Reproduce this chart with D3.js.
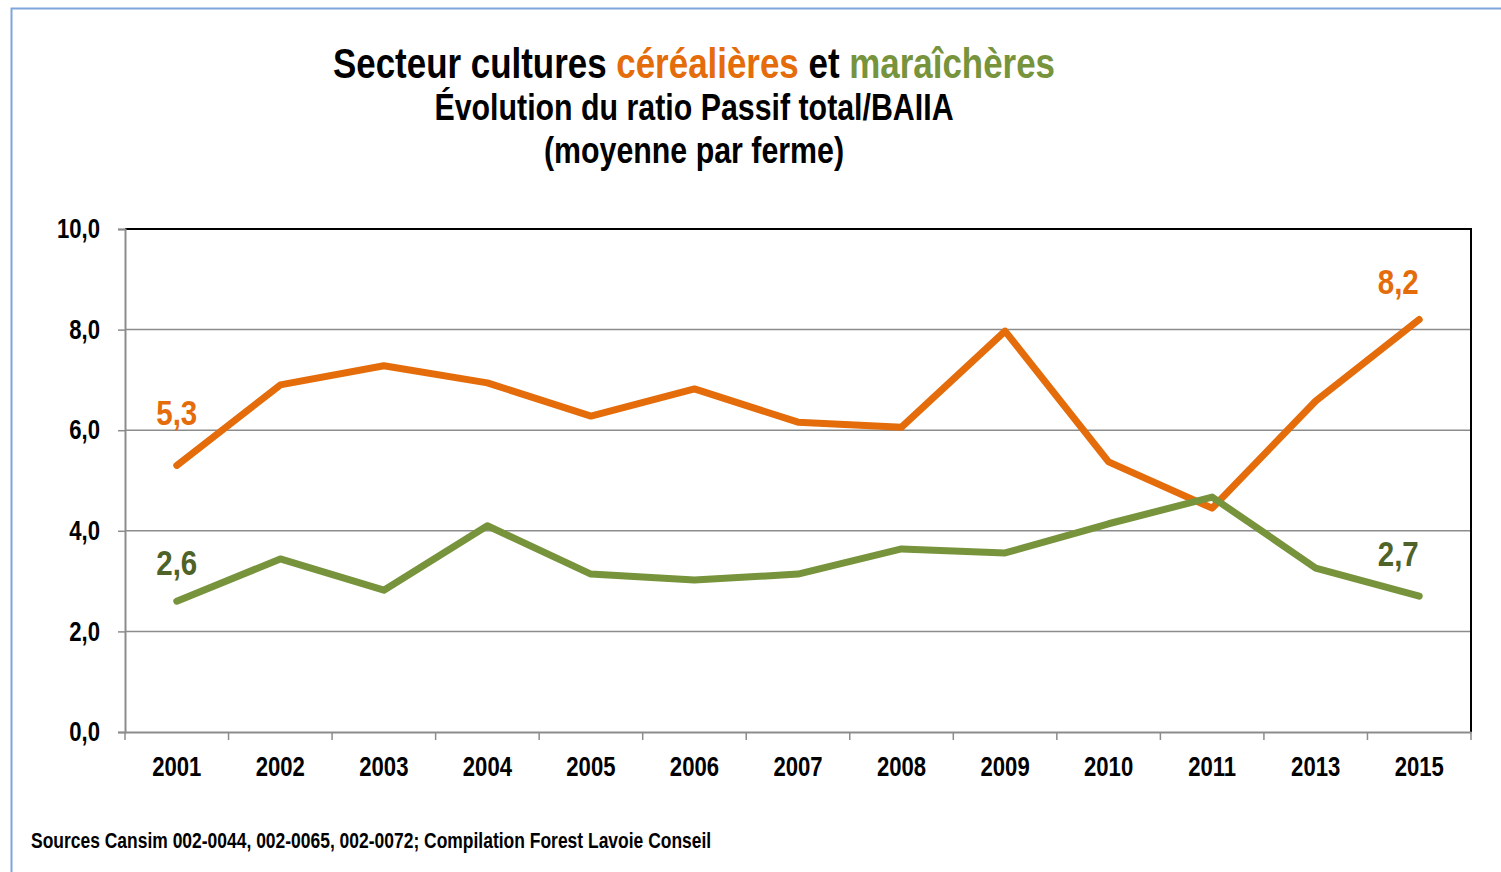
<!DOCTYPE html>
<html>
<head>
<meta charset="utf-8">
<script src="https://cdn.jsdelivr.net/npm/d3@7"></script>
<style>
  body { margin: 0; background: #fff; }
  svg text { font-family: "Liberation Sans", Arial, sans-serif; font-weight: bold; }
</style>
</head>
<body>
<svg id="chart"></svg>
<script>
const years = ["2001", "2002", "2003", "2004", "2005", "2006", "2007", "2008", "2009", "2010", "2011", "2013", "2015"];
const cerealieres = [5.3, 6.9, 7.28, 6.94, 6.28, 6.82, 6.16, 6.06, 7.97, 5.37, 4.45, 6.58, 8.2];
const maraicheres = [2.6, 3.44, 2.82, 4.1, 3.14, 3.02, 3.14, 3.64, 3.56, 4.14, 4.67, 3.26, 2.7];
const yTicks = [0, 2, 4, 6, 8, 10];

const width = 1501, height = 872;
const margin = {top: 229, right: 30, bottom: 140, left: 125};
const orange = "#E46C0A", green = "#77933C", darkGreen = "#4F6228";
const narrow = 0.82; // squeeze Arial-like text to look like Arial Narrow

// squeeze a text selection horizontally around its own x anchor
function condense(sel) {
    sel.each(function () {
        const ax = +(this.getAttribute("x") || 0);
        d3.select(this).attr("transform", `translate(${ax},0) scale(${narrow},1) translate(${-ax},0)`);
    });
}

const svg = d3.select("#chart").attr("width", width).attr("height", height);

// frame border (light blue)
svg.append("path")
    .attr("d", `M11.5,${height} L11.5,8.5 L${width},8.5`)
    .attr("fill", "none").attr("stroke", "#7FA6DB").attr("stroke-width", 2);

const x = d3.scaleBand().domain(years).range([margin.left, width - margin.right]);
const y = d3.scaleLinear().domain([0, 10]).range([height - margin.bottom, margin.top]);
const fmt = v => d3.format(".1f")(v).replace(".", ",");

// gridlines
svg.append("g").selectAll("line").data(yTicks.filter(d => d > 0 && d < 10)).join("line")
    .attr("x1", margin.left).attr("x2", width - margin.right)
    .attr("y1", d => y(d)).attr("y2", d => y(d))
    .attr("stroke", "#8c8c8c").attr("stroke-width", 1.5);

// top and right frame of plot
svg.append("path")
    .attr("d", `M${margin.left},${y(10)} L${width - margin.right},${y(10)} L${width - margin.right},${y(0)}`)
    .attr("fill", "none").attr("stroke", "#000").attr("stroke-width", 2);

// y axis
const yAxis = svg.append("g")
    .attr("transform", `translate(${margin.left},0)`)
    .call(d3.axisLeft(y).tickValues(yTicks).tickSize(7).tickPadding(18).tickFormat(fmt));
yAxis.select(".domain").attr("stroke", "#8c8c8c").attr("stroke-width", 2);
yAxis.selectAll(".tick line").attr("stroke", "#8c8c8c").attr("stroke-width", 1.5);
yAxis.selectAll(".tick text").attr("font-size", 27).attr("fill", "#000").call(condense);

// x axis
const xAxis = svg.append("g")
    .attr("transform", `translate(0,${y(0)})`)
    .call(d3.axisBottom(x).tickSize(0).tickPadding(25));
xAxis.select(".domain").attr("stroke", "#8c8c8c").attr("stroke-width", 2);
xAxis.selectAll(".tick text").attr("font-size", 27).attr("fill", "#000").call(condense);
// ticks at band boundaries
svg.append("g").selectAll("line").data(years.concat(["end"])).join("line")
    .attr("x1", (d, i) => margin.left + i * x.step()).attr("x2", (d, i) => margin.left + i * x.step())
    .attr("y1", y(0)).attr("y2", y(0) + 8)
    .attr("stroke", "#8c8c8c").attr("stroke-width", 1.5);

const line = d3.line().x((d, i) => x(years[i]) + x.bandwidth() / 2).y(d => y(d));

svg.append("path").datum(cerealieres).attr("d", line)
    .attr("fill", "none").attr("stroke", orange).attr("stroke-width", 7)
    .attr("stroke-linejoin", "round").attr("stroke-linecap", "round");
svg.append("path").datum(maraicheres).attr("d", line)
    .attr("fill", "none").attr("stroke", green).attr("stroke-width", 7)
    .attr("stroke-linejoin", "round").attr("stroke-linecap", "round");

// value labels at ends
const cx = i => x(years[i]) + x.bandwidth() / 2;
const last = years.length - 1;
const labels = [
  {i: 0, v: cerealieres[0], c: orange, dy: -40, dx: 0},
  {i: last, v: cerealieres[last], c: orange, dy: -26, dx: -21},
  {i: 0, v: maraicheres[0], c: darkGreen, dy: -26, dx: 0},
  {i: last, v: maraicheres[last], c: darkGreen, dy: -30, dx: -21}
];
svg.append("g").selectAll("text").data(labels).join("text")
    .attr("x", d => cx(d.i) + d.dx)
    .attr("y", d => y(d.v) + d.dy)
    .attr("text-anchor", "middle")
    .attr("font-size", 36).attr("fill", d => d.c)
    .text(d => fmt(d.v))
    .call(condense);

// titles
const t1 = svg.append("text").attr("x", 694).attr("y", 78).attr("text-anchor", "middle")
    .attr("font-size", 42.6).attr("fill", "#000");
t1.append("tspan").text("Secteur cultures ");
t1.append("tspan").attr("fill", orange).text("céréalières");
t1.append("tspan").text(" et ");
t1.append("tspan").attr("fill", green).text("maraîchères");
t1.call(condense);
svg.append("text").attr("x", 694).attr("y", 120).attr("text-anchor", "middle")
    .attr("font-size", 37).attr("fill", "#000").text("Évolution du ratio Passif total/BAIIA")
    .call(condense);
svg.append("text").attr("x", 694).attr("y", 163).attr("text-anchor", "middle")
    .attr("font-size", 37).attr("fill", "#000").text("(moyenne par ferme)")
    .call(condense);

svg.append("text").attr("x", 31).attr("y", 848)
    .attr("font-size", 21.3).attr("fill", "#000")
    .text("Sources Cansim 002-0044, 002-0065, 002-0072; Compilation Forest Lavoie Conseil")
    .call(condense);
</script>
</body>
</html>
